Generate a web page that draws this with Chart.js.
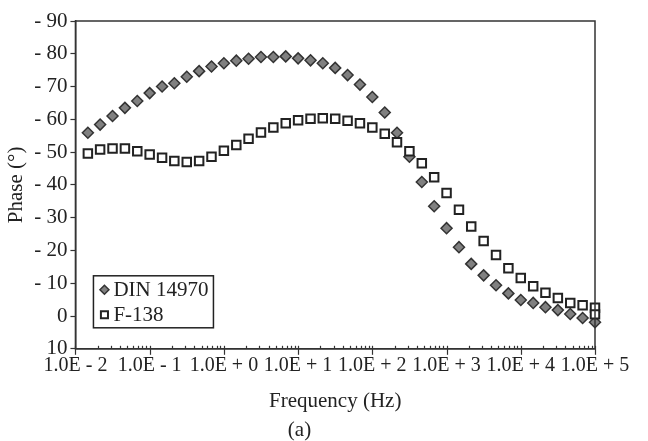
<!DOCTYPE html>
<html>
<head>
<meta charset="utf-8">
<script src="https://cdn.jsdelivr.net/npm/chart.js@4.4.0/dist/chart.umd.min.js"></script>
<style>
  html, body { margin: 0; padding: 0; background: #fff; }
</style>
</head>
<body>
<canvas id="phaseChart" width="648" height="441"></canvas>
<script>
// frequencies (Hz), six readings per decade
const freq = [
  0.0147, 0.0215, 0.0316, 0.0464, 0.0681, 0.1,
  0.147, 0.215, 0.316, 0.464, 0.681, 1,
  1.47, 2.15, 3.16, 4.64, 6.81, 10,
  14.7, 21.5, 31.6, 46.4, 68.1, 100,
  147, 215, 316, 464, 681, 1000,
  1470, 2150, 3160, 4640, 6810, 10000,
  14700, 21500, 31600, 46400, 68100, 100000
];
const dinPhase = [
  -55.9, -58.4, -61.0, -63.5, -65.6, -68.0,
  -70.0, -71.0, -73.0, -74.7, -76.1, -77.1,
  -77.9, -78.5, -79.0, -79.0, -79.2, -78.6,
  -78.0, -77.1, -75.7, -73.5, -70.6, -66.8,
  -62.1, -55.9, -48.6, -40.9, -33.5, -26.8,
  -21.0, -15.9, -12.4, -9.4, -6.9, -4.9,
  -4.0, -2.7, -1.8, -0.6, 0.6, 1.9
];
// F-138 has a second reading at 1.0E+5
const f138Freq = freq.concat([100000]);
const f138Phase = [
  -49.6, -50.8, -51.1, -51.1, -50.3, -49.3,
  -48.3, -47.3, -47.0, -47.3, -48.6, -50.4,
  -52.2, -54.1, -56.0, -57.5, -58.8, -59.7,
  -60.2, -60.3, -60.2, -59.6, -58.8, -57.5,
  -55.6, -53.0, -50.3, -46.6, -42.3, -37.5,
  -32.4, -27.3, -22.9, -18.6, -14.6, -11.6,
  -9.1, -7.1, -5.5, -4.0, -3.3, -2.5,
  -0.5
];
const seriesNames = ['DIN 14970', 'F-138'];
const decades = [-2, -1, 0, 1, 2, 3, 4, 5];

const serif = '"Liberation Serif", "DejaVu Serif", serif';
const ink = '#222';

const toPoints = (xs, ys) => xs.map((x, i) => ({ x: x, y: ys[i] }));

// box round the plot + x tick marks (minor ones inside only)
const frame = {
  id: 'frame',
  afterDraw(chart) {
    const { ctx, chartArea: a } = chart;
    const xs = chart.scales.x;
    ctx.save();
    ctx.strokeStyle = '#333';
    ctx.lineWidth = 1.5;
    ctx.strokeRect(a.left, a.top, a.right - a.left, a.bottom - a.top);
    ctx.lineWidth = 1.2;
    xs.ticks.forEach(t => {
      const px = Math.round(xs.getPixelForValue(t.value)) + 0.5;
      const lg = Math.log10(t.value);
      const major = Math.abs(lg - Math.round(lg)) < 1e-6;
      ctx.beginPath();
      ctx.moveTo(px, a.bottom - 3);
      ctx.lineTo(px, major ? a.bottom + 6 : a.bottom);
      ctx.stroke();
    });
    ctx.restore();
  }
};

// legend drawn inside the plot, bottom left
const boxLegend = {
  id: 'boxLegend',
  afterDraw(chart) {
    const { ctx, chartArea: a } = chart;
    const x = a.left + 18, y = a.bottom - 73;
    ctx.save();
    ctx.fillStyle = '#fff';
    ctx.fillRect(x, y, 120, 52);
    ctx.strokeStyle = ink;
    ctx.lineWidth = 1.5;
    ctx.strokeRect(x, y, 120, 52);
    chart.data.datasets.forEach((ds, i) => {
      const cy = y + 14 + i * 25;
      ctx.fillStyle = ds.backgroundColor;
      ctx.strokeStyle = ds.borderColor;
      ctx.lineWidth = ds.borderWidth;
      Chart.helpers.drawPoint(ctx, { pointStyle: ds.pointStyle, radius: ds.pointRadius - 1, borderWidth: ds.borderWidth }, x + 11, cy);
      ctx.fillStyle = ink;
      ctx.font = '21px ' + serif;
      ctx.textBaseline = 'middle';
      ctx.fillText(ds.label, x + 20, cy + 1);
    });
    ctx.restore();
  }
};

new Chart(document.getElementById('phaseChart'), {
  type: 'scatter',
  data: {
    datasets: [
      {
        label: seriesNames[0],
        data: toPoints(freq, dinPhase),
        pointStyle: 'rectRot',
        pointRadius: 5.5,
        backgroundColor: '#808080',
        borderColor: '#333',
        borderWidth: 1.5,
        order: 2,
        clip: false
      },
      {
        label: seriesNames[1],
        data: toPoints(f138Freq, f138Phase),
        pointStyle: 'rect',
        pointRadius: 6,
        backgroundColor: '#fff',
        borderColor: '#222',
        borderWidth: 2,
        order: 1,
        clip: false
      }
    ]
  },
  options: {
    responsive: false,
    animation: false,
    layout: { padding: { left: 4, right: 53, top: 21, bottom: 0 } },
    plugins: {
      legend: { display: false },
      tooltip: { enabled: false },
      title: {
        display: true,
        text: '(a)',
        position: 'bottom',
        color: ink,
        font: { family: serif, size: 21, weight: 'normal', lineHeight: 1 },
        padding: { top: 6, bottom: 0 }
      }
    },
    scales: {
      x: {
        type: 'logarithmic',
        min: 0.01,
        max: 100000,
        afterBuildTicks: axis => {
          const t = [];
          decades.forEach(e => {
            for (let m = 1; m <= 9; m++) {
              if (e === 5 && m > 1) break;
              t.push({ value: Number((m * Math.pow(10, e)).toPrecision(6)) });
            }
          });
          axis.ticks = t;
        },
        grid: { display: false, drawTicks: false },
        border: { display: true, color: '#333', width: 1.5 },
        ticks: {
          autoSkip: false,
          maxRotation: 0,
          minRotation: 0,
          padding: 5,
          color: ink,
          font: { family: serif, size: 20 },
          callback: v => {
            const lg = Math.log10(v);
            const e = Math.round(lg);
            if (Math.abs(lg - e) > 1e-6) return '';
            return '1.0E ' + (e < 0 ? '- ' : '+ ') + Math.abs(e);
          }
        },
        title: {
          display: true,
          text: 'Frequency (Hz)',
          color: ink,
          font: { family: serif, size: 21 },
          padding: { top: 6, bottom: 0 }
        }
      },
      y: {
        min: -90,
        max: 10,
        reverse: true,
        grid: { drawOnChartArea: false, tickLength: 5, color: '#333', tickWidth: 1.2 },
        border: { display: true, color: '#333', width: 1.5 },
        ticks: {
          stepSize: 10,
          padding: 3,
          color: ink,
          font: { family: serif, size: 21 },
          callback: v => (v < 0 ? '- ' + Math.abs(v) : String(v))
        },
        title: {
          display: true,
          text: 'Phase (°)',
          color: ink,
          font: { family: serif, size: 21 },
          padding: { top: 0, bottom: 2 }
        }
      }
    }
  },
  plugins: [frame, boxLegend]
});
</script>
</body>
</html>
